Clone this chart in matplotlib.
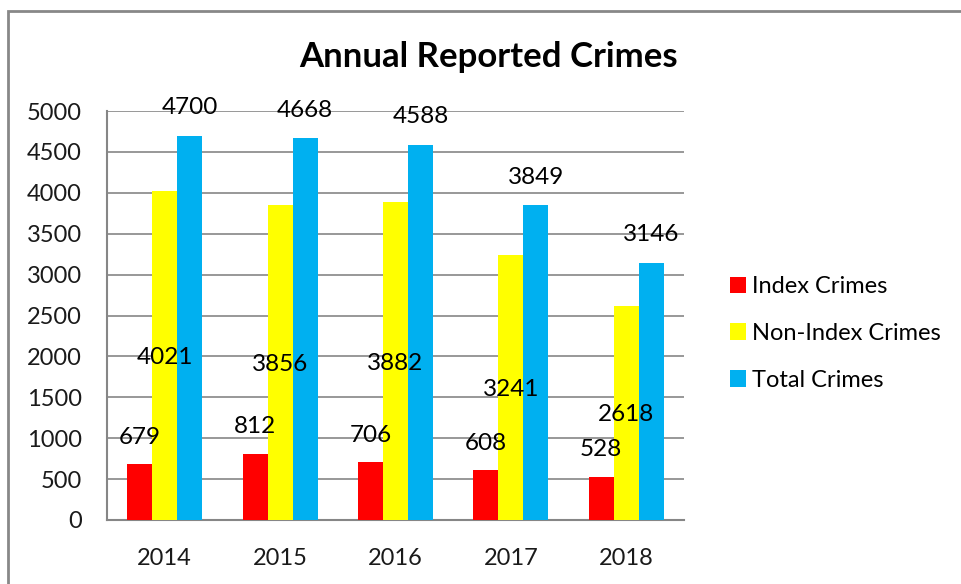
import matplotlib
matplotlib.use('Agg')
import matplotlib.pyplot as plt
from matplotlib.patches import Rectangle
import numpy as np

plt.rcParams['font.family'] = ['Lato', 'DejaVu Sans']

years = ['2014', '2015', '2016', '2017', '2018']
index_crimes = [679, 812, 706, 608, 528]
non_index_crimes = [4021, 3856, 3882, 3241, 2618]
total_crimes = [4700, 4668, 4588, 3849, 3146]

series_names = ['Index Crimes', 'Non-Index Crimes', 'Total Crimes']
colors = ['#FF0000', '#FFFF00', '#00B0F0']

fig = plt.figure(figsize=(9.62, 5.84), dpi=100)
ax = fig.add_axes([107/962, 1 - 520/584, (684 - 107)/962, (520 - 111)/584])

x = np.arange(len(years))
w = 0.217
b1 = ax.bar(x - w, index_crimes, w, color=colors[0], label=series_names[0], zorder=3)
b2 = ax.bar(x, non_index_crimes, w, color=colors[1], label=series_names[1], zorder=3)
b3 = ax.bar(x + w, total_crimes, w, color=colors[2], label=series_names[2], zorder=3)

ax.set_xlim(-0.5, len(years) - 0.5)
ax.set_ylim(0, 5000)
ax.set_yticks(np.arange(0, 5001, 500))
ax.set_xticks(x)
ax.set_xticklabels(years)
ax.tick_params(axis='both', length=0, labelsize=17, colors='#1a1a1a')
ax.tick_params(axis='y', pad=18)
ax.tick_params(axis='x', pad=20)
ax.grid(axis='y', color='#868686', linewidth=1.2, zorder=0)
for s in ['top', 'right']:
    ax.spines[s].set_visible(False)
for s in ['left', 'bottom']:
    ax.spines[s].set_color('#868686')
    ax.spines[s].set_linewidth(1.5)

# data labels (Excel style placement)
for i in range(len(years)):
    ax.annotate(str(index_crimes[i]), (x[i] - w, index_crimes[i]), xytext=(0, 27),
                textcoords='offset pixels', ha='center', va='center', fontsize=17.5, zorder=5)
    ax.annotate(str(non_index_crimes[i]), (x[i], non_index_crimes[i] / 2), xytext=(0, -2),
                textcoords='offset pixels', ha='center', va='center', fontsize=17.5, zorder=5)
    ax.annotate(str(total_crimes[i]), (x[i] + w, total_crimes[i]), xytext=(0, 28),
                textcoords='offset pixels', ha='center', va='center', fontsize=17.5, zorder=5)

fig.text(0.508, 0.902, 'Annual Reported Crimes', ha='center', va='center',
         fontsize=25, fontweight='bold')

fig.legend(handles=[b1, b2, b3], loc='center left', bbox_to_anchor=(718/962, 1 - 333.5/584),
           frameon=False, fontsize=17, handlelength=0.7, handleheight=0.7,
           handletextpad=0.25, labelspacing=1.1, borderpad=0)

fig.patches.append(Rectangle((8/962, -0.1), 1.2, 1 - 11/584 + 0.1, transform=fig.transFigure,
                             fill=False, edgecolor='#888888', linewidth=2))

plt.savefig('out.png', dpi=100)
